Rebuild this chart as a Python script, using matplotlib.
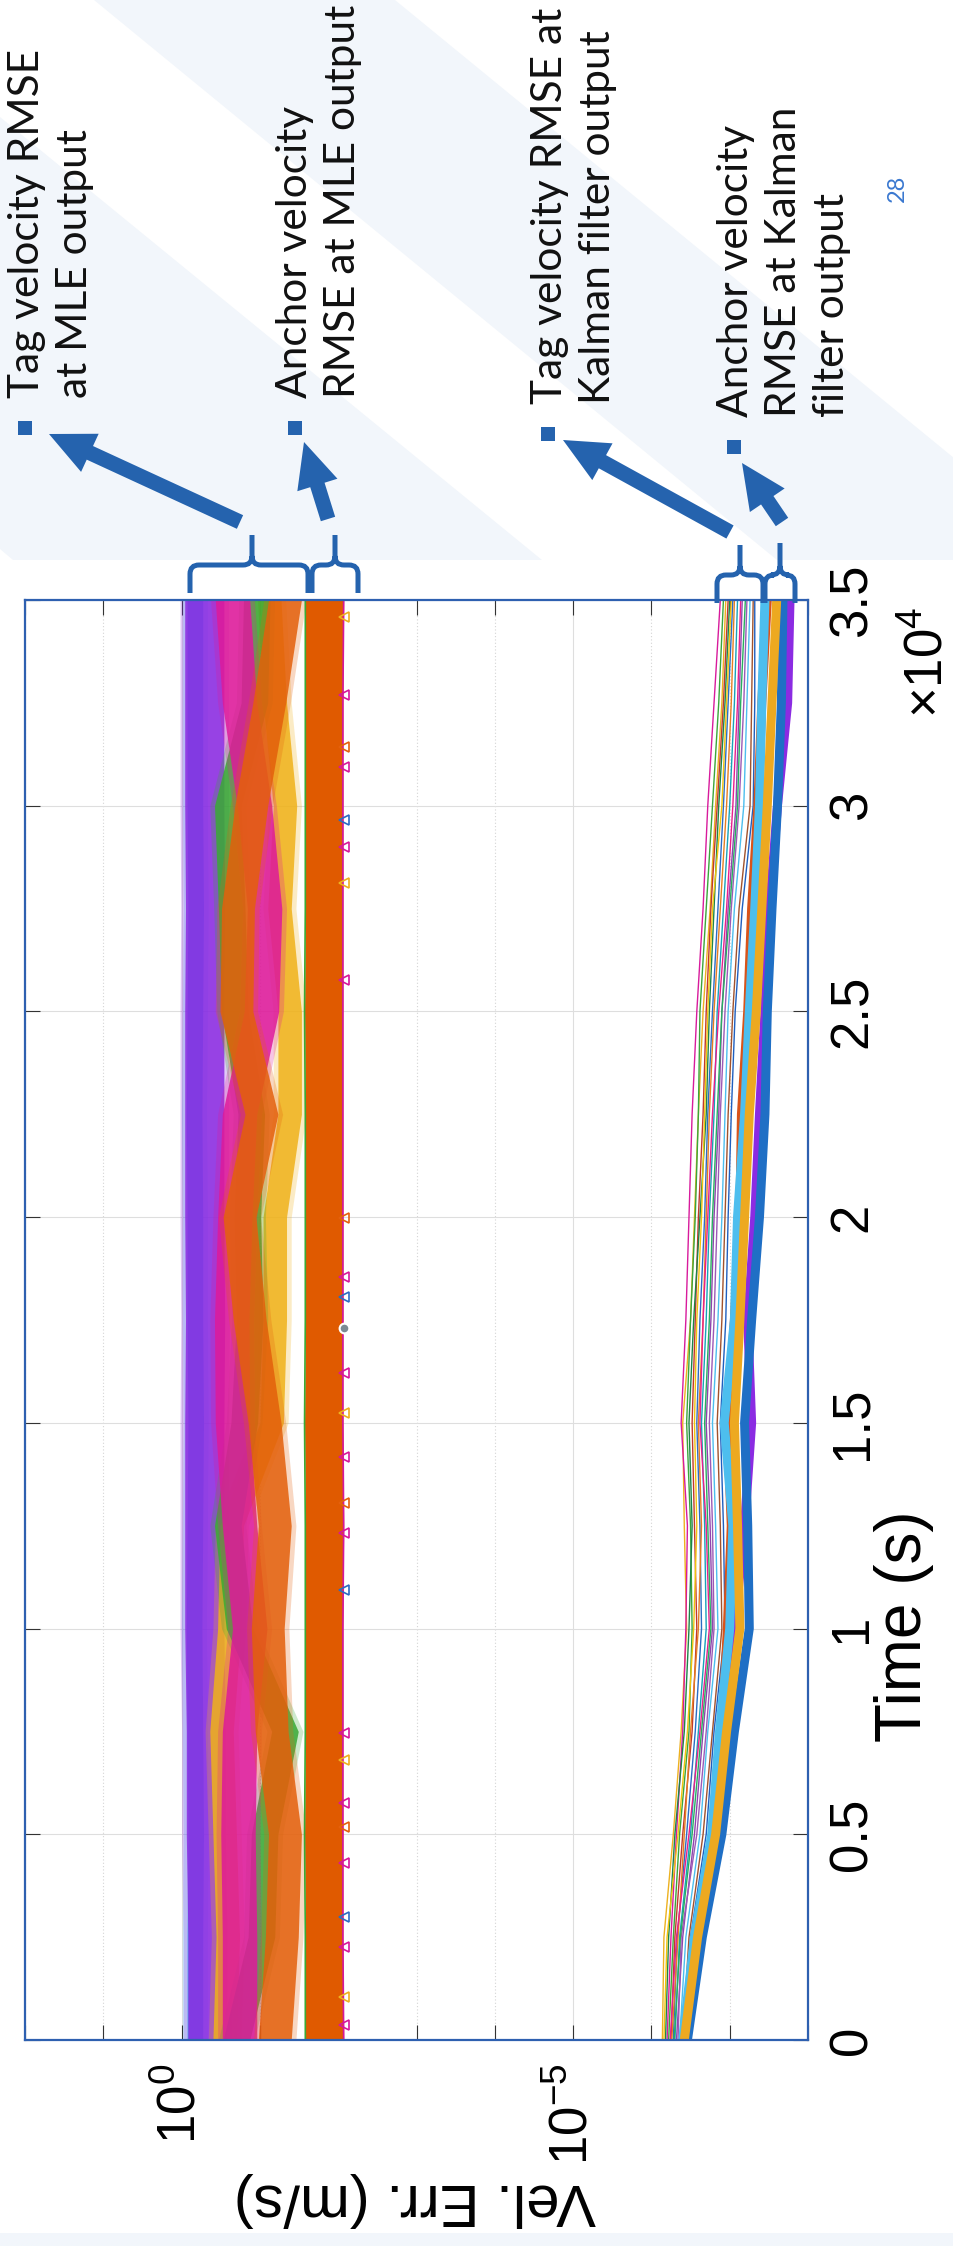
import numpy as np
import matplotlib
matplotlib.use("Agg")
import matplotlib.pyplot as plt
from matplotlib.patches import Polygon, FancyArrow, Rectangle, PathPatch
from matplotlib.path import Path
from matplotlib.ticker import FixedLocator, NullFormatter

plt.rcParams['font.family'] = ['Liberation Sans', 'DejaVu Sans']
plt.rcParams['mathtext.default'] = 'regular'

W, H = 954, 2246

# ---------------------------------------------------------------- data
# time samples (s)
t_knots = [0, 2500, 5000, 7500, 10000, 12500, 15000, 17500,
           20000, 22500, 25000, 27500, 30000, 32500, 35000]

# Tag velocity RMSE at MLE output: log10 centre and half spread of each trace group
mle_tag_cyan = [-0.17, -0.17, -0.18, -0.17, -0.16, -0.17, -0.18, -0.17,
                -0.17, -0.16, -0.17, -0.18, -0.17, -0.17, -0.17]
mle_tag_purple = [-0.33, -0.33, -0.31, -0.31, -0.29, -0.29, -0.29, -0.30,
                  -0.29, -0.29, -0.29, -0.30, -0.29, -0.29, -0.29]
mle_tag_yellow = [-0.55, -0.59, -0.55, -0.51, -0.61, -0.64, -1.15, -1.19,
                  -1.19, -1.38, -1.38, -1.25, -1.32, -1.19, -1.12]
mle_tag_green = [-0.70, -1.02, -1.06, -1.32, -0.74, -0.59, -0.80, -0.87,
                 -0.84, -0.89, -0.68, -0.64, -0.59, -0.93, -0.96]
mle_tag_magenta = [-0.74, -0.74, -0.72, -0.74, -0.87, -0.74, -0.65, -0.64,
                   -0.68, -0.74, -1.02, -1.06, -0.93, -0.74, -0.65]
mle_tag_orange = [-1.19, -1.28, -1.32, -1.15, -1.10, -1.19, -1.06, -0.87,
                  -0.74, -1.02, -0.70, -0.72, -0.89, -1.12, -1.32]
mle_tag_spread = {'cyan': 0.10, 'purple': 0.25, 'yellow': 0.15,
                  'green': 0.17, 'magenta': 0.22, 'orange': 0.21}

# Anchor velocity RMSE at MLE output (log10 band edges)
mle_anchor_lo = [-1.58, -1.58, -1.57, -1.58, -1.58, -1.58, -1.57, -1.58,
                 -1.58, -1.58, -1.57, -1.58, -1.58, -1.58, -1.58]
mle_anchor_hi = [-2.07, -2.06, -2.06, -2.06, -2.06, -2.07, -2.06, -2.06,
                 -2.06, -2.06, -2.06, -2.06, -2.06, -2.06, -2.07]
anchor_marker_t = [365, 1045, 2260, 2990, 4302, 5177, 5760, 6806, 7462,
                   10938, 12323, 13052, 14170, 15240, 16212, 18059, 18545,
                   19979, 25764, 28122, 28997, 29653, 30941, 31427, 32691, 34587]
anchor_marker_log = -2.07
datatip_t, datatip_log = 17306, -2.07

# Tag velocity RMSE at Kalman filter output (log10), one list per trace
kf_tag = [
    [-6.14, -6.16, -6.28, -6.38, -6.45, -6.42, -6.40, -6.50, -6.55, -6.60, -6.66, -6.75, -6.82, -6.90, -6.95],
    [-6.20, -6.25, -6.32, -6.40, -6.44, -6.46, -6.38, -6.44, -6.48, -6.52, -6.58, -6.66, -6.72, -6.80, -6.88],
    [-6.22, -6.28, -6.36, -6.48, -6.52, -6.50, -6.45, -6.50, -6.56, -6.60, -6.62, -6.70, -6.78, -6.86, -6.92],
    [-6.25, -6.30, -6.40, -6.52, -6.58, -6.55, -6.52, -6.56, -6.60, -6.66, -6.70, -6.76, -6.84, -6.92, -6.98],
    [-6.28, -6.33, -6.45, -6.56, -6.64, -6.62, -6.58, -6.62, -6.68, -6.72, -6.78, -6.85, -6.92, -6.98, -7.04],
    [-6.30, -6.36, -6.50, -6.60, -6.70, -6.68, -6.64, -6.70, -6.74, -6.80, -6.84, -6.92, -7.00, -7.06, -7.10],
    [-6.32, -6.40, -6.55, -6.66, -6.78, -6.75, -6.70, -6.76, -6.80, -6.86, -6.90, -6.98, -7.08, -7.12, -7.16],
    [-6.26, -6.34, -6.42, -6.50, -6.60, -6.64, -6.60, -6.66, -6.70, -6.74, -6.80, -6.88, -6.96, -7.02, -7.06],
    [-6.36, -6.44, -6.62, -6.72, -6.85, -6.82, -6.78, -6.85, -6.90, -6.94, -6.98, -7.06, -7.18, -7.22, -7.26],
    [-6.18, -6.22, -6.30, -6.42, -6.48, -6.52, -6.48, -6.54, -6.62, -6.70, -6.74, -6.80, -6.86, -6.94, -7.00],
    [-6.24, -6.32, -6.48, -6.62, -6.74, -6.70, -6.62, -6.66, -6.72, -6.78, -6.86, -6.96, -7.04, -7.10, -7.14],
    [-6.40, -6.48, -6.66, -6.78, -6.90, -6.88, -6.84, -6.90, -6.94, -6.98, -7.04, -7.12, -7.26, -7.28, -7.30],
    [-6.42, -6.50, -6.70, -6.80, -6.94, -6.92, -6.88, -6.95, -6.98, -7.02, -7.07, -7.16, -7.30, -7.32, -7.32],
    [-6.16, -6.20, -6.34, -6.46, -6.54, -6.58, -6.55, -6.58, -6.64, -6.68, -6.72, -6.78, -6.90, -6.96, -7.02],
    [-6.34, -6.38, -6.58, -6.70, -6.80, -6.78, -6.74, -6.80, -6.84, -6.88, -6.94, -7.02, -7.12, -7.18, -7.22],
    [-6.29, -6.37, -6.52, -6.64, -6.76, -6.72, -6.68, -6.74, -6.78, -6.84, -6.90, -7.00, -7.10, -7.14, -7.20],
]

# Anchor velocity RMSE at Kalman filter output (log10)
kf_anchor_red = [-6.41, -6.58, -6.79, -6.90, -6.97, -7.02, -6.97, -7.06, -7.13, -7.15, -7.23, -7.28, -7.36, -7.41, -7.48]
kf_anchor_purple = [-6.44, -6.62, -6.85, -7.00, -7.06, -7.19, -7.28, -7.23, -7.32, -7.38, -7.45, -7.51, -7.61, -7.74, -7.77]
kf_anchor_blue = [-6.46, -6.65, -6.90, -7.06, -7.25, -7.23, -7.19, -7.28, -7.38, -7.45, -7.48, -7.54, -7.61, -7.66, -7.68]
kf_anchor_cyan = [-6.40, -6.55, -6.77, -6.87, -7.00, -7.04, -6.93, -7.06, -7.10, -7.19, -7.25, -7.32, -7.38, -7.41, -7.45]
kf_anchor_yellow = [-6.42, -6.59, -6.82, -6.96, -7.13, -7.10, -7.06, -7.13, -7.19, -7.25, -7.34, -7.41, -7.48, -7.54, -7.60]

time_ticks = [0, 5000, 10000, 15000, 20000, 25000, 30000, 35000]
time_tick_labels = ['0', '0.5', '1', '1.5', '2', '2.5', '3', '3.5']
err_ticks = [1e0, 1e-5]
err_tick_labels = ['$10^{0}$', '$10^{-5}$']
err_minor = [1e2, 1e1, 1e-1, 1e-2, 1e-3, 1e-4, 1e-6, 1e-7, 1e-8]

notes = ['Tag velocity RMSE\nat MLE output',
         'Anchor velocity\nRMSE at MLE output',
         'Tag velocity RMSE at\nKalman filter output',
         'Anchor velocity\nRMSE at Kalman\nfilter output']

# ---------------------------------------------------------------- styles
BLUE = '#2563AE'
PALE = '#F2F6FB'
mle_colors = {'cyan': '#2FB2EE', 'purple': '#8B2BE2', 'yellow': '#F0B21A',
              'green': '#3BAA35', 'magenta': '#DE1A9A', 'orange': '#E4600C'}
kf_thin_colors = ['#EDB120', '#D81B9C', '#3BA53B', '#C0392B', '#2B6CC4', '#17A2B8',
                  '#8E44AD', '#E67E22', '#4DBEEE', '#1E8449', '#E91E8C', '#A0522D',
                  '#1F5FBF', '#F1C40F', '#9B59B6', '#27AE60']
marker_colors = ['#D6179B', '#EDB120', '#D6179B', '#2B6CC4', '#D6179B', '#E4600C']

fig = plt.figure(figsize=(W / 100, H / 100), dpi=100)
fig.patch.set_facecolor('white')

# slide background
bg = fig.add_axes([0, 0, 1, 1], zorder=0)
bg.set_xlim(0, W)
bg.set_ylim(H, 0)
bg.axis('off')
bg.add_patch(Polygon([(0, 117), (542, 560), (13, 560), (0, 549)], closed=True,
                     facecolor=PALE, edgecolor='none'))
bg.add_patch(Polygon([(94, 0), (395, 0), (954, 458), (954, 560), (777, 560)],
                     closed=True, facecolor=PALE, edgecolor='none'))
bg.add_patch(Rectangle((0, 2233), W, H - 2233, facecolor=PALE, edgecolor='none'))

# ---------------------------------------------------------------- chart
ax = fig.add_axes([25 / W, 206 / H, 783 / W, 1440 / H], zorder=1)
ax.set_facecolor('white')
t = np.array(t_knots, dtype=float)

for name, centre in [('cyan', mle_tag_cyan), ('purple', mle_tag_purple),
                     ('yellow', mle_tag_yellow), ('green', mle_tag_green),
                     ('magenta', mle_tag_magenta), ('orange', mle_tag_orange)]:
    c = np.array(centre)
    s = mle_tag_spread[name]
    ax.fill_betweenx(t, 10 ** (c + s), 10 ** (c - s), color=mle_colors[name],
                     alpha=0.85, lw=0)
    # thin fringe on both sides of each group
    ax.fill_betweenx(t, 10 ** (c + s + 0.06), 10 ** (c - s - 0.06),
                     color=mle_colors[name], alpha=0.25, lw=0)

ax.fill_betweenx(t, 10 ** np.array(mle_anchor_lo), 10 ** np.array(mle_anchor_hi),
                 color='#E05A00', lw=0)
ax.plot(10 ** np.array(mle_anchor_lo), t, color='#3BAA35', lw=1.2)
ax.plot(10 ** np.array(mle_anchor_hi), t, color='#D6179B', lw=1.2)
for i, tm in enumerate(anchor_marker_t):
    ax.plot(10 ** anchor_marker_log, tm, marker='<', ms=7, mfc='none',
            mec=marker_colors[i % len(marker_colors)], mew=1.2, ls='none')
ax.plot(10 ** datatip_log, datatip_t, 'o', ms=7, mfc='#7B8A93', mec='white', mew=1.5)

for i, tr in enumerate(kf_tag):
    ax.plot(10 ** np.array(tr), t, color=kf_thin_colors[i], lw=1.0)
for tr, col in [(kf_anchor_red, '#D95319'), (kf_anchor_purple, '#8B2BE2'),
                (kf_anchor_blue, '#1F6FC5'), (kf_anchor_cyan, '#4DBEEE'),
                (kf_anchor_yellow, '#EDA920')]:
    ax.plot(10 ** np.array(tr), t, color=col, lw=6.5, solid_capstyle='round')

ax.set_xscale('log')
ax.set_xlim(1e2, 1e-8)
ax.set_ylim(0, 35000)
ax.set_xticks(err_ticks)
ax.set_xticklabels(err_tick_labels)
ax.xaxis.set_minor_locator(FixedLocator(err_minor))
ax.xaxis.set_minor_formatter(NullFormatter())
ax.set_yticks(time_ticks)
ax.set_yticklabels(time_tick_labels)
ax.grid(True, which='major', color='#DEDEDE', lw=0.8, ls='-')
ax.grid(True, which='minor', axis='x', color='#D4D4D4', lw=0.8, ls=(0, (1, 2)))
ax.set_axisbelow(True)
ax.tick_params(axis='both', which='both', direction='in', length=10.8, width=0.8,
               color='#333333', top=True, right=True, bottom=True, left=True)
ax.tick_params(axis='x', which='major', labelsize=38, pad=17, labelrotation=90)
ax.tick_params(axis='y', which='major', labelsize=38, pad=14, labelrotation=90,
               labelleft=False, labelright=True)
for lab in ax.get_yticklabels():
    lab.set_verticalalignment('center')
for sp in ax.spines.values():
    sp.set_color('#2E60B0')
    sp.set_linewidth(1.6)

fig.text(415 / W, 1 - 2200 / H, 'Vel. Err. (m/s)', rotation=180, fontsize=43,
         ha='center', va='center')
fig.text(904 / W, 1 - 1626 / H, 'Time (s)', rotation=90, fontsize=46,
         ha='center', va='center')
fig.text(928 / W, 1 - 662 / H, r'$\times10^{4}$', rotation=90, fontsize=38,
         ha='center', va='center')

# ---------------------------------------------------------------- annotations
ov = fig.add_axes([0, 0, 1, 1], zorder=3)
ov.set_xlim(0, W)
ov.set_ylim(H, 0)
ov.axis('off')
ov.patch.set_alpha(0)


def brace(x1, x2, xc, yb, ybar, ytop, r=9):
    verts = [(x1, yb), (x1, ybar + r), (x1, ybar), (x1 + r, ybar),
             (xc - r, ybar), (xc, ybar), (xc, ybar - r), (xc, ytop),
             (xc, ybar - r), (xc, ybar), (xc + r, ybar),
             (x2 - r, ybar), (x2, ybar), (x2, ybar + r), (x2, yb)]
    codes = [Path.MOVETO, Path.LINETO, Path.CURVE3, Path.CURVE3,
             Path.LINETO, Path.CURVE3, Path.CURVE3, Path.LINETO,
             Path.MOVETO, Path.CURVE3, Path.CURVE3,
             Path.LINETO, Path.CURVE3, Path.CURVE3, Path.LINETO]
    ov.add_patch(PathPatch(Path(verts, codes), facecolor='none', edgecolor=BLUE,
                           lw=3.6, capstyle='butt'))


brace(190, 308, 252, 593, 565, 535)
brace(312, 358, 335, 593, 565, 535)
brace(717, 763, 740, 603, 575, 545)
brace(765, 795, 780, 603, 575, 543)

for (x0, y0), (x1, y1) in [((240, 522), (49, 434)), ((328, 519), (304, 442)),
                           ((730, 532), (563, 440)), ((782, 522), (742, 463))]:
    ov.add_patch(FancyArrow(x0, y0, x1 - x0, y1 - y0, width=15, head_width=42,
                            head_length=45, length_includes_head=True,
                            facecolor=BLUE, edgecolor='none'))

for bx, by in [(18, 421), (288, 421), (541, 427), (727, 440)]:
    ov.add_patch(Rectangle((bx, by), 14, 14, facecolor=BLUE, edgecolor='none'))

for (nx, ny), txt in zip([(8, 398), (276, 398), (531, 404), (717, 417)], notes):
    ov.text(nx, ny, txt, rotation=90, rotation_mode='anchor', ha='left', va='top',
            fontsize=30.5, family=['Lato', 'DejaVu Sans'], linespacing=1.32,
            color='#111111')

ov.text(897, 188, '28', rotation=90, fontsize=17, color='#3A78D0',
        ha='center', va='center', family=['Lato', 'DejaVu Sans'])

fig.savefig('out.png', dpi=100, facecolor='white')
